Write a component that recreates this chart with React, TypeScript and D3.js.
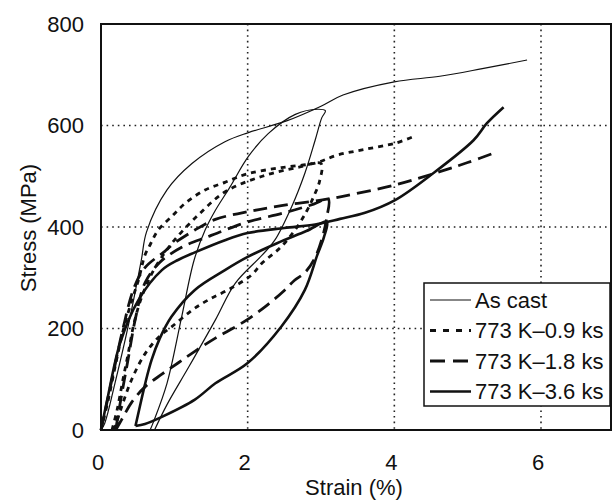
import React, { useEffect, useRef } from 'react';
import * as d3 from 'd3';

type Pt = [number, number];

// strain (%), stress (MPa)
const asCastEnvelope: Pt[] = [[0, 0], [0.05, 13], [0.19, 92], [0.37, 204], [0.55, 335], [0.62, 390], [0.9, 473], [1.24, 525], [1.69, 568], [2.01, 586], [2.53, 609], [3.0, 638], [3.3, 660], [4.0, 686], [4.62, 697], [5.2, 712], [5.81, 729]];
const asCastLoop: Pt[] = [[0.67, 0], [0.71, 14], [0.9, 92], [1.1, 223], [1.27, 335], [1.42, 394], [1.56, 433], [1.76, 479], [2.01, 539], [2.28, 584], [2.65, 622], [2.95, 632], [3.06, 629], [3.01, 615], [2.92, 571], [2.78, 506], [2.6, 440], [2.37, 374], [2.2, 345], [1.83, 289], [1.56, 217], [1.2, 125], [0.9, 50], [0.73, 0]];

const ks09Envelope: Pt[] = [[0, 0], [0.1, 60], [0.2, 130], [0.3, 195], [0.42, 255], [0.51, 295], [0.6, 345], [0.67, 365], [0.78, 394], [0.96, 420], [1.15, 447], [1.42, 473], [1.69, 488], [2.0, 505], [2.46, 517], [2.92, 526], [3.23, 542], [3.6, 553], [4.01, 565], [4.26, 578]];
const ks09Loop: Pt[] = [[0.15, 0], [0.22, 40], [0.3, 100], [0.37, 150], [0.45, 210], [0.55, 260], [0.7, 310], [0.95, 365], [1.3, 420], [1.7, 470], [2.2, 500], [2.7, 518], [3.0, 525], [2.98, 490], [2.9, 460], [2.8, 430], [2.65, 395], [2.45, 360], [2.19, 328], [2.05, 305], [1.73, 276], [1.46, 256], [1.24, 236], [0.97, 204], [0.8, 185], [0.6, 150], [0.42, 100], [0.28, 45], [0.18, 0]];

const ks18Envelope: Pt[] = [[0, 0], [0.15, 100], [0.3, 200], [0.45, 280], [0.6, 320], [0.87, 352], [1.0, 368], [1.28, 394], [1.56, 415], [2.0, 430], [2.46, 442], [3.0, 453], [3.28, 460], [4.01, 483], [4.62, 509], [5.0, 527], [5.4, 548]];
const ks18Loop: Pt[] = [[0.2, 0], [0.27, 60], [0.37, 140], [0.47, 220], [0.6, 290], [0.8, 330], [1.1, 360], [1.46, 381], [1.69, 394], [2.0, 410], [2.5, 428], [2.9, 445], [3.1, 455], [3.08, 420], [3.02, 380], [2.92, 340], [2.78, 310], [2.64, 295], [2.5, 275], [2.24, 243], [2.0, 218], [1.83, 203], [1.56, 181], [1.28, 155], [1.05, 132], [0.83, 110], [0.6, 85], [0.42, 55], [0.28, 20], [0.2, 0]];

const ks36Envelope: Pt[] = [[0, 0], [0.1, 70], [0.26, 171], [0.51, 256], [0.83, 315], [1.05, 335], [1.28, 350], [1.69, 374], [2.0, 388], [2.5, 398], [2.92, 405], [3.26, 416], [3.6, 428], [4.01, 453], [4.53, 506], [5.08, 571], [5.26, 604], [5.49, 636]];
const ks36Loop: Pt[] = [[0.47, 8], [0.52, 40], [0.6, 90], [0.69, 138], [0.8, 180], [0.96, 223], [1.28, 276], [1.69, 315], [2.0, 341], [2.4, 368], [2.8, 392], [3.08, 410], [3.04, 380], [2.95, 345], [2.78, 276], [2.46, 204], [2.0, 132], [1.56, 92], [1.28, 60], [0.83, 26], [0.6, 12], [0.47, 8]];

const seriesNames = ['As cast', '773 K\u20130.9 ks', '773 K\u20131.8 ks', '773 K\u20133.6 ks'];
const seriesCurves: Pt[][][] = [
  [asCastEnvelope, asCastLoop],
  [ks09Envelope, ks09Loop],
  [ks18Envelope, ks18Loop],
  [ks36Envelope, ks36Loop],
];
const seriesWidth = [1.2, 2.8, 2.8, 2.6];
const seriesDash = [null, '5,5', '14,7', null];
const legendDash = [null, '6,7', '15,8', null];

const xTicks = [0, 2, 4, 6];
const yTicks = [0, 200, 400, 600, 800];

const W = 615;
const H = 500;
const FONT = '"Liberation Sans", Arial, Helvetica, sans-serif';

const App = () => {
  const ref = useRef<SVGSVGElement>(null);

  useEffect(() => {
    const svg = d3.select(ref.current);
    svg.selectAll('*').remove();

    const x = d3.scaleLinear().domain([0, 6]).range([101, 541]);
    const y = d3.scaleLinear().domain([0, 800]).range([430, 24]);
    const right = 611;

    svg.append('rect').attr('width', W).attr('height', H).attr('fill', '#fff');

    // dotted grid
    const grid = svg.append('g')
      .attr('stroke', '#222')
      .attr('stroke-width', 1.6)
      .attr('stroke-dasharray', '1.6,4');
    xTicks.filter(t => t > 0).forEach(t => {
      grid.append('line')
        .attr('x1', x(t)).attr('x2', x(t))
        .attr('y1', y(800)).attr('y2', y(0));
    });
    yTicks.filter(t => t > 0 && t < 800).forEach(t => {
      grid.append('line')
        .attr('x1', x(0)).attr('x2', right)
        .attr('y1', y(t)).attr('y2', y(t));
    });

    // curves
    const line = d3.line<Pt>()
      .x(d => x(d[0]))
      .y(d => y(d[1]))
      .curve(d3.curveCatmullRom.alpha(0.5));

    const curves = svg.append('g').attr('fill', 'none').attr('stroke', '#111');
    seriesCurves.forEach((segs, i) => {
      segs.forEach(seg => {
        const p = curves.append('path')
          .attr('d', line(seg))
          .attr('stroke-width', seriesWidth[i])
          .attr('stroke-linejoin', 'round');
        if (seriesDash[i]) p.attr('stroke-dasharray', seriesDash[i]);
      });
    });

    // frame
    svg.append('rect')
      .attr('x', x(0)).attr('y', y(800))
      .attr('width', right - x(0)).attr('height', y(0) - y(800))
      .attr('fill', 'none').attr('stroke', '#111').attr('stroke-width', 2);

    // tick labels
    svg.append('g').selectAll('text').data(yTicks).join('text')
      .attr('x', 84).attr('y', d => y(d)).attr('dy', '0.36em')
      .attr('text-anchor', 'end')
      .style('font-family', FONT).style('font-size', '22px').attr('fill', '#111')
      .text(d => d);

    svg.append('g').selectAll('text').data(xTicks).join('text')
      .attr('x', d => x(d) - 3).attr('y', 470)
      .attr('text-anchor', 'middle')
      .style('font-family', FONT).style('font-size', '22px').attr('fill', '#111')
      .text(d => d);

    // axis titles
    svg.append('text')
      .attr('x', 354).attr('y', 495)
      .attr('text-anchor', 'middle')
      .style('font-family', FONT).style('font-size', '22px').attr('fill', '#111')
      .text('Strain (%)');

    svg.append('text')
      .attr('transform', 'translate(36,228) rotate(-90)')
      .attr('text-anchor', 'middle')
      .style('font-family', FONT).style('font-size', '22px').attr('fill', '#111')
      .text('Stress (MPa)');

    // legend
    const lg = svg.append('g').attr('transform', 'translate(424,283)');
    lg.append('rect')
      .attr('width', 186).attr('height', 123)
      .attr('fill', '#fff').attr('stroke', '#111').attr('stroke-width', 1.5);
    seriesNames.forEach((name, i) => {
      const cy = 17 + i * 30.5;
      const l = lg.append('line')
        .attr('x1', 6).attr('x2', 47)
        .attr('y1', cy).attr('y2', cy)
        .attr('stroke', '#111').attr('stroke-width', seriesWidth[i]);
      if (legendDash[i]) l.attr('stroke-dasharray', legendDash[i]);
      lg.append('text')
        .attr('x', 51).attr('y', cy).attr('dy', '0.36em')
        .style('font-family', FONT).style('font-size', '22px').attr('fill', '#111')
        .text(name);
    });
  }, []);

  return (
    <svg ref={ref} width={W} height={H} style={{ position: 'absolute', left: 0, top: 0 }} />
  );
};

export default App;
